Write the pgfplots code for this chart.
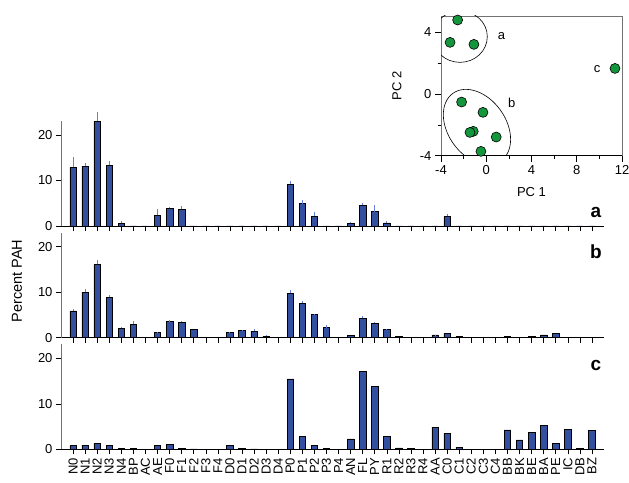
\documentclass[border=0pt]{standalone}
\usepackage{pgfplots}
\usepackage{pgfplotstable}
\pgfplotsset{compat=1.18}
\usepackage{fontspec}
\setmainfont{Liberation Sans}
\definecolor{barblue}{RGB}{51,79,160}
\definecolor{errblue}{RGB}{100,130,220}
\definecolor{ptgreen}{RGB}{20,150,60}
\definecolor{axgray}{RGB}{115,115,115}

\pgfplotstableread{
idx lab a ae b be c
0 N0 12.9 2.2 5.9 0.4 0.8
1 N1 13.1 0.8 10.0 0.6 0.9
2 N2 23.0 2.1 16.1 1.0 1.3
3 N3 13.3 1.0 8.9 0.4 0.9
4 N4 0.6 0.4 2.05 0.35 0.22
5 BP 0 0 3.0 0.7 0.22
6 AC 0 0 0.1 0 0.05
7 AE 2.35 1.35 1.17 0.05 0.9
8 F0 3.9 0.3 3.5 0.3 1.1
9 F1 3.7 0.7 3.4 0.25 0.22
10 F2 0 0 1.76 0 0.07
11 F3 0 0 0.1 0 0
12 F4 0 0 0 0 0
13 D0 0 0 1.17 0.13 0.8
14 D1 0 0 1.54 0.15 0.22
15 D2 0 0 1.47 0.4 0.07
16 D3 0 0 0.37 0.2 0
17 D4 0 0 0 0 0
18 P0 9.2 0.6 9.74 0.65 15.46
19 P1 4.9 0.9 7.6 0.5 2.78
20 P2 2.1 1.0 5.05 0.15 0.88
21 P3 0 0 2.2 0.5 0.22
22 P4 0 0 0 0 0
23 AN 0.6 0.35 0.5 0 2.27
24 FL 4.6 0.4 4.25 0.5 17.2
25 PY 3.15 1.45 3.15 0.25 13.85
26 R1 0.66 0.35 1.83 0.15 2.78
27 R2 0 0 0.3 0 0.3
28 R3 0 0 0.1 0 0.15
29 R4 0 0 0 0 0
30 AA 0 0 0.6 0.06 4.9
31 C0 2.1 0.5 0.95 0 3.5
32 C1 0 0 0.37 0 0.5
33 C2 0 0 0.1 0 0.05
34 C3 0 0 0 0 0
35 C4 0 0 0 0 0
36 BB 0 0 0.37 0 4.25
37 BK 0 0 0.1 0 2.05
38 BE 0 0 0.37 0 3.8
39 BA 0 0 0.6 0 5.27
40 PE 0 0 0.95 0 1.3
41 IC 0 0 0.1 0 4.4
42 DB 0 0 0 0 0.22
43 BZ 0 0 0.1 0 4.1
}\pah

\pgfplotstableread{
x y
-2.53 4.8
-3.2 3.35
-1.09 3.22
11.38 1.66
-2.18 -0.52
-0.29 -1.19
-1.15 -2.42
-1.44 -2.49
0.88 -2.79
-0.47 -3.72
}\pca

\pgfplotsset{
  panel/.style={
    anchor=south west, scale only axis, width=543pt, height=105pt,
    xmin=-1, xmax=44, ymin=0, ymax=23.08,
    axis x line*=bottom, axis y line*=left,
    x axis line style={black,-}, y axis line style={axgray,-},
    xtick={0,...,43}, ytick={0,10,20},
    tick align=outside, major tick length=5pt,
    tick style={black, line width=0.6pt},
    ticklabel style={font=\fontsize{13}{15}\selectfont},
    /pgf/number format/assume math mode=true,
    ybar, bar width=6.5pt, clip=false,
  },
  bars/.style={fill=barblue, draw=black, line width=0.6pt},
  errs/.style={error bars/.cd, y dir=plus, y explicit, error mark=none,
    error bar style={errblue, line width=1pt}},
}

\begin{document}
\begin{tikzpicture}
\useasboundingbox (0pt,0pt) rectangle (629pt,482pt);

% panel a
\begin{axis}[panel, at={(61pt,256pt)}, xticklabels={}]
\addplot[bars, errs] table[x=idx, y=a, y error=ae] {\pah};
\node[font=\bfseries\fontsize{19}{21}\selectfont] at (axis description cs:0.985,0.124) {a};
\end{axis}

% panel b
\begin{axis}[panel, at={(61pt,144.3pt)}, xticklabels={},
  ylabel={Percent PAH},
  ylabel style={font=\fontsize{14.5}{16}\selectfont, at={(axis description cs:-0.081,0.54)}, anchor=center, rotate=0}]
\addplot[bars, errs] table[x=idx, y=b, y error=be] {\pah};
\node[font=\bfseries\fontsize{19}{21}\selectfont] at (axis description cs:0.985,0.82) {b};
\end{axis}

% panel c
\begin{axis}[panel, at={(61pt,32.7pt)},
  xticklabels from table={\pah}{lab},
  xticklabel style={rotate=90, anchor=east, font=\fontsize{13}{15}\selectfont}]
\addplot[bars] table[x=idx, y=c] {\pah};
\node[font=\bfseries\fontsize{19}{21}\selectfont] at (axis description cs:0.985,0.80) {c};
\end{axis}

% inset PCA
\begin{axis}[at={(441pt,326.3pt)}, anchor=south west, scale only axis,
  width=181pt, height=139.7pt,
  xmin=-4, xmax=12, ymin=-4, ymax=5.06,
  xtick={-4,0,4,8,12}, ytick={-4,0,4},
  minor xtick={-2,2,6,10}, minor ytick={-2,2},
  xtick pos=left, ytick pos=left, tick align=outside,
  major tick length=6pt, minor tick length=3.5pt,
  axis line style={axgray, line width=0.8pt},
  tick style={black, line width=0.6pt},
  ticklabel style={font=\fontsize{13}{15}\selectfont},
  /pgf/number format/assume math mode=true,
  xlabel={PC 1}, ylabel={PC 2},
  label style={font=\fontsize{13}{15}\selectfont},
  xlabel style={at={(axis description cs:0.5,-0.26)}, anchor=center},
  ylabel style={at={(axis description cs:-0.243,0.5)}, anchor=center, rotate=0},
]
\draw[black, line width=0.6pt] (axis cs:-2.32,3.72) ellipse [x radius=27.3pt, y radius=25.7pt];
\draw[black, line width=0.6pt] (axis cs:-0.82,-2.14) ellipse [x radius=28.9pt, y radius=41.4pt, rotate=35.5];
\addplot[only marks, mark=*, mark size=5pt, mark options={fill=ptgreen, draw=black, line width=0.6pt}] table[x=x, y=y] {\pca};
\node[font=\fontsize{13}{15}\selectfont] at (axis cs:1.35,3.78) {a};
\node[font=\fontsize{13}{15}\selectfont] at (axis cs:2.26,-0.56) {b};
\node[font=\fontsize{13}{15}\selectfont] at (axis cs:9.8,1.62) {c};
\draw[black, line width=0.8pt] (rel axis cs:0,0) -- (rel axis cs:1,0);
\end{axis}
\end{tikzpicture}
\end{document}
